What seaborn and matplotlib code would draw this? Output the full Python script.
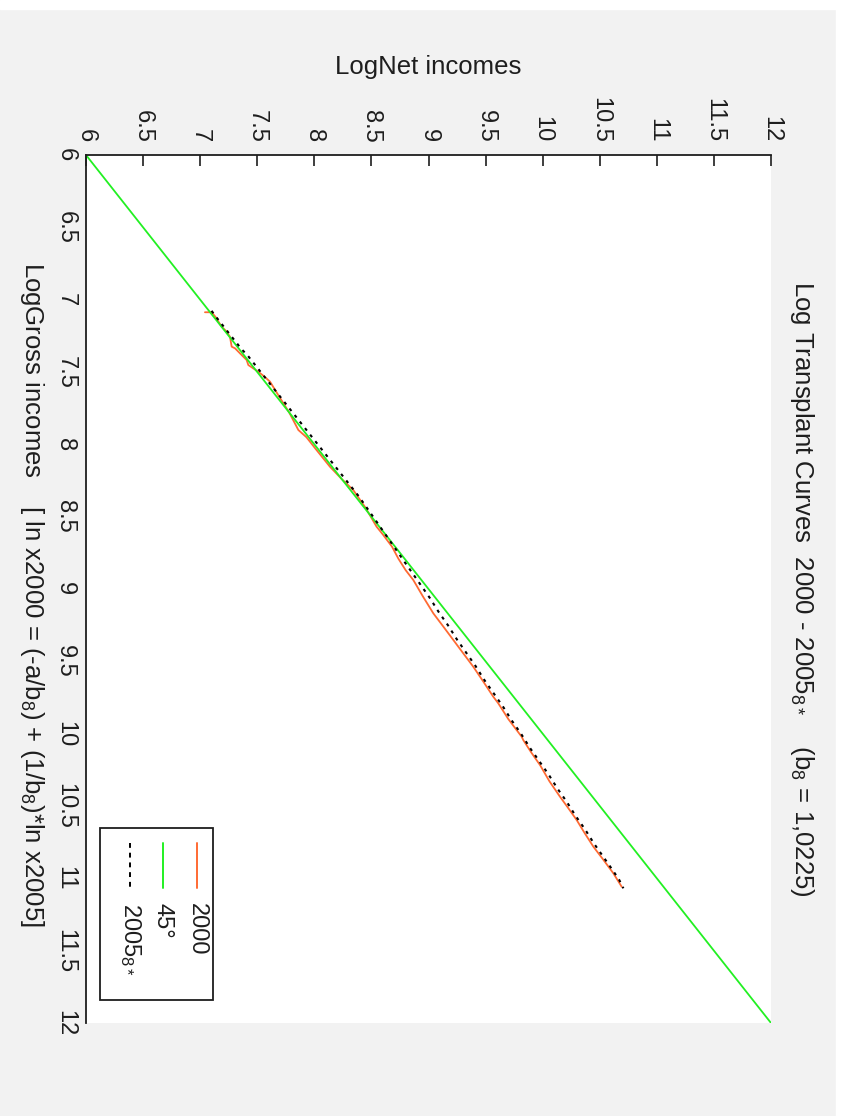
import matplotlib
matplotlib.use("Agg")
import matplotlib.pyplot as plt
import pandas as pd
import seaborn as sns
from matplotlib.lines import Line2D
from matplotlib.patches import Rectangle

# log net income (horizontal) against log gross income (vertical, downwards)
net_2000 = [7.042, 7.101, 7.135, 7.188, 7.225, 7.261, 7.276, 7.305, 7.36, 7.407,
            7.422, 7.509, 7.56, 7.612, 7.70, 7.78, 7.845, 7.860, 7.93, 8.02,
            8.137, 8.24, 8.341, 8.45, 8.545, 8.604, 8.68, 8.736, 8.80, 8.867,
            8.95, 9.042, 9.13, 9.217, 9.30, 9.392, 9.48, 9.567, 9.611, 9.70,
            9.816, 9.830, 9.90, 9.977, 10.06, 10.152, 10.22, 10.298, 10.37,
            10.444, 10.53, 10.619, 10.692]
gross_2000 = [7.087, 7.087, 7.12, 7.187, 7.215, 7.256, 7.325, 7.336, 7.38, 7.417,
              7.452, 7.498, 7.53, 7.567, 7.68, 7.78, 7.878, 7.901, 7.95, 8.04,
              8.155, 8.24, 8.316, 8.44, 8.569, 8.627, 8.707, 8.790, 8.87, 8.938,
              9.05, 9.168, 9.26, 9.352, 9.44, 9.537, 9.64, 9.744, 9.790, 9.90,
              10.021, 10.044, 10.13, 10.217, 10.33, 10.436, 10.51, 10.597, 10.69,
              10.781, 10.87, 10.965, 11.058]

net_2005 = [7.10, 7.13, 7.17, 7.22, 7.27, 7.31, 7.36, 7.42, 7.47, 7.53,
            7.59, 7.66, 7.73, 7.80, 7.87, 7.93, 8.00, 8.07, 8.15, 8.23,
            8.31, 8.39, 8.47, 8.55, 8.62, 8.70, 8.77, 8.85, 8.93, 9.01,
            9.09, 9.17, 9.25, 9.33, 9.41, 9.49, 9.57, 9.65, 9.73, 9.81,
            9.89, 9.97, 10.05, 10.13, 10.21, 10.29, 10.37, 10.45, 10.53,
            10.61, 10.67, 10.707]
gross_2005 = [7.077, 7.11, 7.15, 7.20, 7.25, 7.29, 7.34, 7.39, 7.44, 7.50,
              7.56, 7.63, 7.70, 7.77, 7.84, 7.90, 7.97, 8.04, 8.12, 8.20,
              8.28, 8.36, 8.45, 8.54, 8.62, 8.71, 8.79, 8.88, 8.97, 9.06,
              9.16, 9.25, 9.35, 9.44, 9.53, 9.63, 9.72, 9.81, 9.91, 10.00,
              10.10, 10.19, 10.28, 10.38, 10.47, 10.57, 10.66, 10.76, 10.85,
              10.94, 11.01, 11.069]

diag = [6, 12]
ticks = [6, 6.5, 7, 7.5, 8, 8.5, 9, 9.5, 10, 10.5, 11, 11.5, 12]
tick_labels = ["6", "6.5", "7", "7.5", "8", "8.5", "9", "9.5", "10", "10.5", "11", "11.5", "12"]

sns.set_style("white")
plt.rcParams["font.family"] = ["Liberation Sans", "DejaVu Sans"]
plt.rcParams["mathtext.fontset"] = "custom"
plt.rcParams["mathtext.rm"] = "Liberation Sans"
plt.rcParams["mathtext.it"] = "Liberation Sans"
plt.rcParams["mathtext.default"] = "regular"

fig = plt.figure(figsize=(8.43, 11.16), dpi=100, facecolor="#f2f2f2")
# white edges of the original screenshot
fig.patches.append(Rectangle((836 / 843, 0), 7 / 843, 1, transform=fig.transFigure,
                             color="white", zorder=-1))
fig.patches.append(Rectangle((0, 1 - 9 / 1116), 1, 9 / 1116, transform=fig.transFigure,
                             color="white", zorder=-1))
ax = fig.add_axes([86 / 843, 1 - 1023 / 1116, 685 / 843, 868 / 1116])

orange = "#ff6a33"
green = "#22f022"
ink = "#1e1e1e"

df00 = pd.DataFrame({"net": net_2000, "gross": gross_2000})
df05 = pd.DataFrame({"net": net_2005, "gross": gross_2005})
sns.lineplot(data=df00, x="net", y="gross", sort=False, estimator=None,
             color=orange, linewidth=1.3, ax=ax)
sns.lineplot(x=diag, y=diag, sort=False, estimator=None, color=green,
             linewidth=1.3, ax=ax)
sns.lineplot(data=df05, x="net", y="gross", sort=False, estimator=None,
             color="black", linewidth=1.5, linestyle=(0, (1.5, 2.5)), ax=ax)

ax.set_xlim(6, 12)
ax.set_ylim(12, 6)
ax.xaxis.tick_top()
ax.set_xticks(ticks)
ax.set_xticklabels(tick_labels, rotation=-90)
ax.set_yticks(ticks)
ax.set_yticklabels(tick_labels, rotation=-90, va="center")
ax.tick_params(axis="x", direction="in", length=8, width=1.2, pad=9,
               labelsize=17, colors=ink)
ax.tick_params(axis="y", direction="in", length=8, width=1.2, pad=7,
               labelsize=17, colors=ink)
for side in ["right", "bottom"]:
    ax.spines[side].set_visible(False)
for side in ["top", "left"]:
    ax.spines[side].set_color(ink)
    ax.spines[side].set_linewidth(1.3)

ax.set_xlabel("LogNet incomes", fontsize=18.5, va="center", color=ink)
ax.xaxis.set_label_coords(0.5, (1023 - 67) / 868)
ax.set_ylabel(r"LogGross incomes    [ ln x2000 = (-a/b$_8$) + (1/b$_8$)*ln x2005]",
              fontsize=18.5, rotation=-90, va="center", color=ink)
ax.yaxis.set_label_coords((32 - 86) / 685, 0.494)
ax.text((802 - 86) / 685, 0.5,
        r"Log Transplant Curves  2000 - 2005$_{8*}$    (b$_8$ = 1,0225)",
        transform=ax.transAxes, rotation=-90, ha="center", va="center",
        fontsize=18.5, color=ink)

# legend drawn rotated, like the rest of the figure
ax.add_patch(Rectangle((0.0204, 0.0265), 0.165, 0.1982, transform=ax.transAxes,
                       facecolor="white", edgecolor=ink, linewidth=1.3, zorder=5))
entries = [("2000", orange, "-", 0.162), ("45°", green, "-", 0.1124),
           (r"2005$_{8*}$", "black", (0, (2.5, 2.5)), 0.0642)]
for label, col, ls, xpos in entries:
    ax.add_line(Line2D([xpos, xpos], [0.2074, 0.1555], transform=ax.transAxes,
                       color=col, linestyle=ls, linewidth=1.4, zorder=6))
    ax.text(xpos, 0.138, label, transform=ax.transAxes, rotation=-90,
            rotation_mode="anchor", ha="left", va="center", fontsize=17,
            color=ink, zorder=6)

fig.savefig("out.png", dpi=100, facecolor=fig.get_facecolor())
